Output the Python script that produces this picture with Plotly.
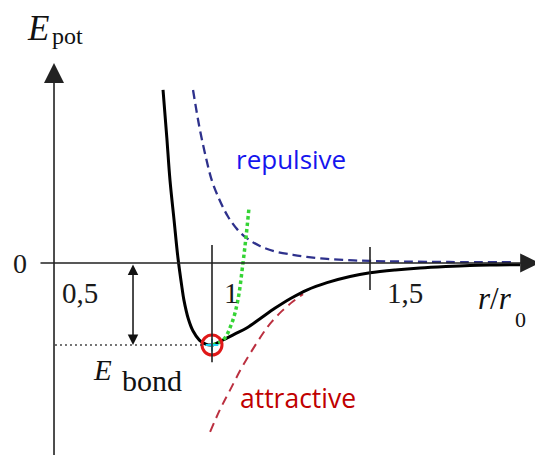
import plotly.graph_objects as go

## DATA (r in units of r0, E in units of E_bond)
r_total = [0.845, 0.857, 0.867, 0.880, 0.892, 0.905, 0.911, 0.925, 0.94, 0.96, 0.98, 1.0,
           1.032, 1.07, 1.111, 1.152, 1.2, 1.25, 1.3, 1.364, 1.437, 1.5, 1.58, 1.658,
           1.74, 1.816, 1.9, 1.975]
e_total = [2.11, 1.53, 1.01, 0.52, 0.07, -0.30, -0.45, -0.68, -0.83, -0.94, -0.99, -1.0,
           -0.945, -0.87, -0.79, -0.68, -0.55, -0.43, -0.33, -0.24, -0.165, -0.12, -0.085, -0.06,
           -0.042, -0.03, -0.024, -0.02]

r_rep = [0.94, 0.96, 0.98, 1.0, 1.025, 1.05, 1.08, 1.111, 1.15, 1.2, 1.256, 1.30,
         1.364, 1.43, 1.5, 1.6, 1.75, 1.96]
e_rep = [2.11, 1.66, 1.30, 1.00, 0.76, 0.57, 0.41, 0.30, 0.21, 0.14, 0.10, 0.075,
         0.05, 0.035, 0.025, 0.018, 0.012, 0.01]

r_att = [0.994, 1.025, 1.057, 1.098, 1.161, 1.184, 1.22, 1.256, 1.288]
e_att = [-2.06, -1.79, -1.55, -1.25, -0.86, -0.74, -0.59, -0.47, -0.38]

r_harm = [1.0, 1.035, 1.063, 1.082, 1.098, 1.108, 1.117]
e_harm = [-1.0, -0.94, -0.73, -0.45, 0.0, 0.33, 0.67]

r_min, e_min = 1.0, -1.0
tick_vals = [0.5, 1.0, 1.5]
tick_text = ["0,5", "1", "1,5"]

serif = "Liberation Serif"
sans = "Open Sans"

fig = go.Figure()

# repulsive and attractive parts
fig.add_trace(go.Scatter(x=r_rep, y=e_rep, mode="lines", line_shape="spline",
                         line=dict(color="#2e318c", width=2.3, dash="9px,5px")))
fig.add_trace(go.Scatter(x=r_att, y=e_att, mode="lines", line_shape="spline",
                         line=dict(color="#bb3040", width=2, dash="9px,6px")))
# total potential
fig.add_trace(go.Scatter(x=r_total, y=e_total, mode="lines", line_shape="spline",
                         line=dict(color="black", width=3)))
# harmonic approximation
fig.add_trace(go.Scatter(x=r_harm, y=e_harm, mode="lines", line_shape="spline",
                         line=dict(color="#35d435", width=3.5, dash="3.5px,3px")))
# equilibrium point
fig.add_trace(go.Scatter(x=[r_min], y=[e_min], mode="markers",
                         marker=dict(symbol="circle-open", size=20, color="#e01818",
                                     line=dict(width=3, color="#e01818"))))
fig.add_trace(go.Scatter(x=[r_min], y=[e_min], mode="markers",
                         marker=dict(symbol="cross-thin-open", size=9,
                                     line=dict(width=2, color="#1f9a1f"))))

shapes = []
# tick marks at r0 and 1.5 r0
shapes.append(dict(type="line", x0=1.0, x1=1.0, y0=0.22, y1=-1.21, line=dict(color="#222", width=1.6)))
shapes.append(dict(type="line", x0=1.5, x1=1.5, y0=0.195, y1=-0.33, line=dict(color="#222", width=1.6)))
# dotted level of E_bond
shapes.append(dict(type="line", x0=0.503, x1=0.978, y0=e_min, y1=e_min,
                   line=dict(color="#444", width=1.5, dash="2px,3px")))

annots = []
# axes with arrow heads
annots.append(dict(x=0.5, y=2.44, ax=0.5, ay=-2.36, axref="x", ayref="y", xref="x", yref="y",
                   text="", showarrow=True, arrowhead=2, arrowsize=2.5, arrowwidth=1.6, arrowcolor="#222"))
annots.append(dict(x=2.036, y=0, ax=0.4525, ay=0, axref="x", ayref="y", xref="x", yref="y",
                   text="", showarrow=True, arrowhead=2, arrowsize=2.4, arrowwidth=1.6, arrowcolor="#222"))
# E_bond double arrow
annots.append(dict(x=0.75, y=e_min, ax=0.75, ay=0, axref="x", ayref="y", xref="x", yref="y",
                   text="", showarrow=True, arrowhead=2, arrowsize=1.4, arrowwidth=1.5,
                   arrowside="end+start", startarrowhead=2, startarrowsize=1.4, arrowcolor="#111"))

# tick labels
shifts = [6, 10, 15]
for v, t, s in zip(tick_vals, tick_text, shifts):
    annots.append(dict(x=v, y=-0.36, text=t, showarrow=False, xanchor="left", xshift=s,
                       font=dict(family=serif, size=29, color="#1a1a1a")))
annots.append(dict(x=0.3924, y=0, text="0", showarrow=False,
                   font=dict(family=serif, size=28, color="#1a1a1a")))

# axis titles
annots.append(dict(x=0.4509, y=2.86, text="<i>E</i>", showarrow=False,
                   font=dict(family=serif, size=35, color="#111")))
annots.append(dict(x=0.5411, y=2.77, text="pot", showarrow=False,
                   font=dict(family=serif, size=24, color="#111")))
annots.append(dict(x=1.8956, y=-0.427, text="<i>r</i>/<i>r</i>", showarrow=False,
                   font=dict(family=serif, size=31, color="#111")))
annots.append(dict(x=1.9747, y=-0.689, text="0", showarrow=False,
                   font=dict(family=serif, size=22, color="#111")))
annots.append(dict(x=0.655, y=-1.30, text="<i>E</i>", showarrow=False,
                   font=dict(family=serif, size=29, color="#111")))
annots.append(dict(x=0.8101, y=-1.427, text="bond", showarrow=False,
                   font=dict(family=serif, size=30, color="#111")))

# curve labels
annots.append(dict(x=1.2484, y=1.268, text="repulsive", showarrow=False,
                   font=dict(family=sans, size=26, color="#1515ee")))
annots.append(dict(x=1.2722, y=-1.646, text="attractive", showarrow=False,
                   font=dict(family=sans, size=26.5, color="#c00000")))

# ranges offset by the 8px page margin so the drawing lands where it does in the reference
fig.update_layout(
    width=543, height=459,
    margin=dict(l=0, r=0, t=0, b=0),
    paper_bgcolor="white", plot_bgcolor="white",
    showlegend=False,
    xaxis=dict(range=[0.3544, 2.0728], visible=False, fixedrange=True),
    yaxis=dict(range=[-2.4878, 3.1098], visible=False, fixedrange=True),
    shapes=shapes,
    annotations=annots,
)

fig.write_html("out.html")
